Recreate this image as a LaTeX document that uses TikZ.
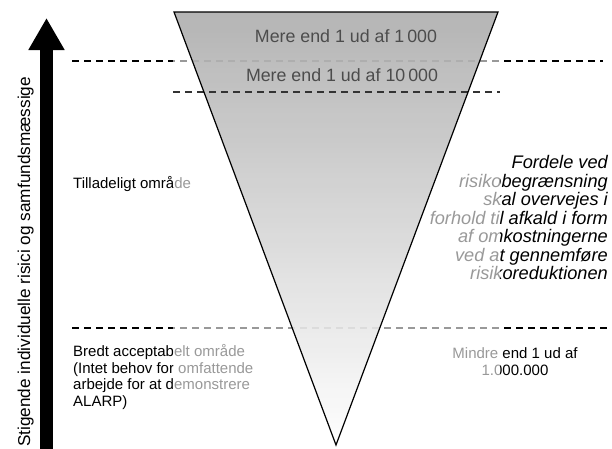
\documentclass[tikz,border=0pt]{standalone}
\usepackage{fontspec}
\setmainfont{Liberation Sans}
\usetikzlibrary{arrows.meta}
\tikzset{
  level/.style={line width=1.2pt, dash pattern=on 7pt off 5pt},
  wash/.style={white, opacity=0.6},
  label/.style={inner sep=0pt, font=\fontsize{15}{16.7}\selectfont},
}
\begin{document}
\begin{tikzpicture}[x=1pt,y=-1pt]
  \useasboundingbox (0,0) rectangle (612,448);
  % Rising arrow with its caption
  \draw[line width=13pt,-{Triangle[length=32pt,width=34pt]}] (46.5,452) -- (46.5,18);
  \node[rotate=90, anchor=base west, inner sep=0pt,
        font=\fontsize{17.2}{17}\selectfont] (axis) at (30,447)
        {Stigende individuelle risici og samfundsmæssige};
  % Dashed limits
  \draw[level] (72,61) -- (603,61);
  \draw[level] (72,328) -- (607,328);
  % Region texts
  \node[label, anchor=west] (tol) at (73,184) {Tilladeligt område};
  \node[label, anchor=west, align=left] (broad) at (73,377)
    {Bredt acceptabelt område\\(Intet behov for omfattende\\arbejde for at demonstrere\\ALARP)};
  \node[label, align=center] (low) at (515,361.5) {Mindre end 1 ud af\\1.000.000};
  \node[inner sep=0pt, anchor=east, align=right,
        font=\fontsize{18.2}{18.5}\selectfont\itshape] (gain) at (608,217.5)
    {Fordele ved\\risikobegrænsning\\skal overvejes i\\forhold til afkald i form\\af omkostningerne\\ved at gennemføre\\risikoreduktionen};
  % Washed column behind the funnel
  \fill[wash] (173,12) rectangle (500,445);
  % Funnel
  \coordinate (tl) at (174,12);
  \coordinate (tr) at (498,12);
  \coordinate (tip) at (336,445);
  \shade[top color=black!34, bottom color=white, fill opacity=0.85] (tl) -- (tr) -- (tip) -- cycle;
  \draw[level, black!80] (173,92) -- (500,92);
  \draw[line width=1.2pt, line join=miter] (tl) -- (tr) -- (tip) -- cycle;
  \node[inner sep=0pt, text=black!70, font=\fontsize{17.8}{17}\selectfont] (high) at (346,36) {Mere end 1 ud af 1\,000};
  \node[inner sep=0pt, text=black!70, font=\fontsize{17.8}{17}\selectfont] (mid) at (342,75) {Mere end 1 ud af 10\,000};
\end{tikzpicture}
\end{document}
